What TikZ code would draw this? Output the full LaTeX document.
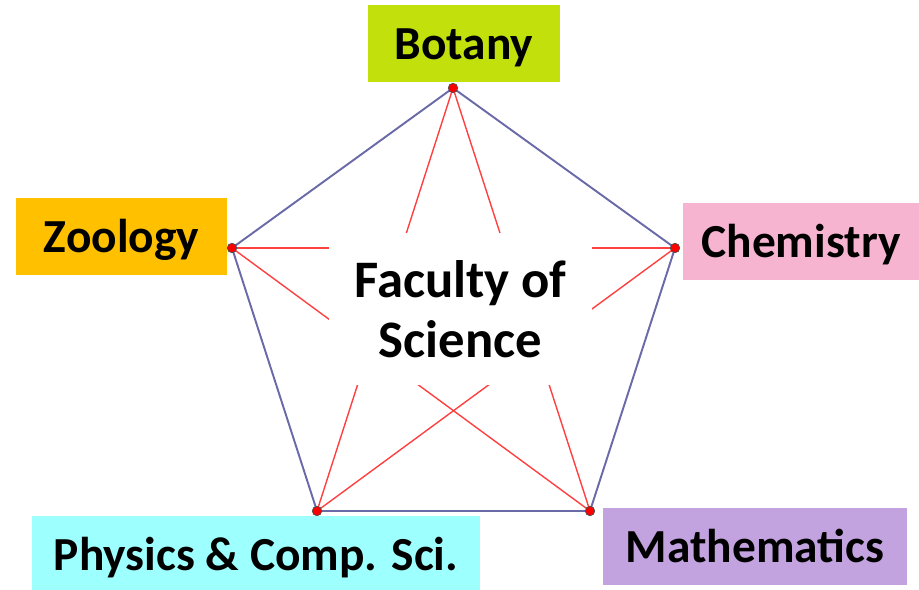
\documentclass[tikz,border=0pt]{standalone}
\usepackage{fontspec}
\setmainfont{Carlito}
\usepackage{xcolor}
\usepackage{tikz}
\usetikzlibrary{positioning}
\definecolor{botanyc}{HTML}{C2E00C}
\definecolor{zoologyc}{HTML}{FFC000}
\definecolor{chemc}{HTML}{F6B4D0}
\definecolor{physc}{HTML}{9EFFFF}
\definecolor{mathc}{HTML}{C3A3DF}
\definecolor{edgec}{HTML}{6A6AA8}
\definecolor{diagc}{HTML}{FF4040}

\begin{document}
\begin{tikzpicture}[x=0.02cm,y=-0.02cm,
    dept/.style={inner sep=0pt,minimum height=1.54cm,text height=0.88cm,text depth=0.22cm,
      font=\fontsize{27}{31}\selectfont\bfseries},
    side/.style={edgec,line width=1.1pt},
    diag/.style={diagc,line width=0.8pt},
    vdot/.style={circle,fill=red,draw=black!70,line width=0.4pt,inner sep=0pt,minimum size=0.19cm}]
  \useasboundingbox (0,0) rectangle (919,590);
  % pentagon corners
  \coordinate (vB) at (453,88);
  \coordinate (vC) at (675,248);
  \coordinate (vM) at (590,511);
  \coordinate (vP) at (317,511);
  \coordinate (vZ) at (232,248);
  \draw[side] (vB) -- (vC) -- (vM) -- (vP) -- (vZ) -- cycle;
  \draw[diag] (vB) -- (vM);
  \draw[diag] (vB) -- (vP);
  \draw[diag] (vZ) -- (vC);
  \draw[diag] (vZ) -- (vM);
  \draw[diag] (vC) -- (vP);
  \node[fill=white,inner sep=0pt,minimum width=5.26cm,minimum height=3.04cm,align=center,
    font=\fontsize{30}{34}\selectfont\bfseries] (faculty) at (460.5,309) {Faculty of\\Science};
  \foreach \v in {vB,vC,vM,vP,vZ}
    \node[vdot] (\v-dot) at (\v) {};
  % departments
  \node[dept,fill=botanyc,minimum width=3.84cm] (botany) at (464,43.5) {Botany};
  \node[dept,fill=zoologyc,minimum width=4.22cm] (zoology) at (121.5,236.5) {Zoology};
  \node[dept,fill=chemc,minimum width=4.72cm] (chemistry) at (801,241.5) {Chemistry};
  \node[dept,fill=physc,minimum width=8.96cm] (physics) at (256,554.5) {Physics \& Comp. Sci.};
  \node[dept,fill=mathc,minimum width=6.08cm] (maths) at (755,546.5) {Mathematics};
\end{tikzpicture}
\end{document}
